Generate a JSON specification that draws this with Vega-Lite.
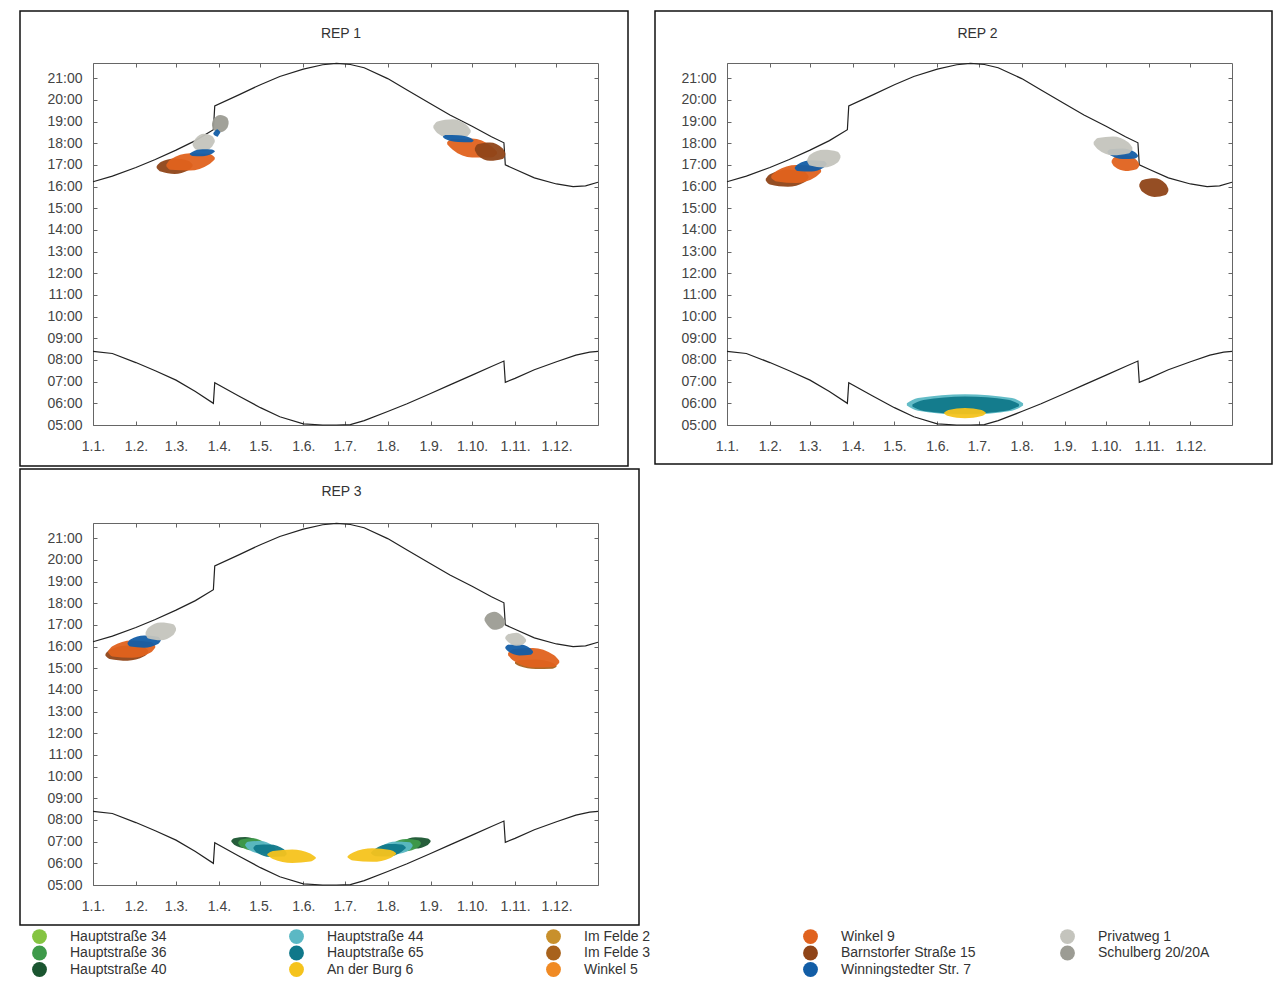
{
  "$schema": "https://vega.github.io/schema/vega-lite/v6.json",
  "background": "white",
  "padding": {"left": 19, "top": 10, "right": 0, "bottom": 0},
  "config": {
    "view": {"stroke": "#111", "strokeWidth": 1.5},
    "font": "Liberation Sans",
    "axis": {"labelFont": "Liberation Sans", "labelFontSize": 14, "labelColor": "#444", "domainColor": "#666", "tickColor": "#666", "domainWidth": 1, "tickWidth": 1, "grid": false},
    "title": {"font": "Liberation Sans", "fontSize": 14, "fontWeight": "normal", "color": "#333"}
  },
  "datasets": {
    "sun": [
      {"curve": "Sonnenuntergang", "date": "2020-01-01", "time": 16.22},
      {"curve": "Sonnenuntergang", "date": "2020-01-15", "time": 16.48},
      {"curve": "Sonnenuntergang", "date": "2020-02-01", "time": 16.88},
      {"curve": "Sonnenuntergang", "date": "2020-02-15", "time": 17.25},
      {"curve": "Sonnenuntergang", "date": "2020-03-01", "time": 17.68},
      {"curve": "Sonnenuntergang", "date": "2020-03-15", "time": 18.12},
      {"curve": "Sonnenuntergang", "date": "2020-03-28", "time": 18.62},
      {"curve": "Sonnenuntergang", "date": "2020-03-29", "time": 19.72},
      {"curve": "Sonnenuntergang", "date": "2020-04-15", "time": 20.22},
      {"curve": "Sonnenuntergang", "date": "2020-05-01", "time": 20.7},
      {"curve": "Sonnenuntergang", "date": "2020-05-15", "time": 21.08},
      {"curve": "Sonnenuntergang", "date": "2020-06-01", "time": 21.42},
      {"curve": "Sonnenuntergang", "date": "2020-06-15", "time": 21.62},
      {"curve": "Sonnenuntergang", "date": "2020-06-25", "time": 21.68},
      {"curve": "Sonnenuntergang", "date": "2020-07-05", "time": 21.63},
      {"curve": "Sonnenuntergang", "date": "2020-07-15", "time": 21.48},
      {"curve": "Sonnenuntergang", "date": "2020-08-01", "time": 20.98},
      {"curve": "Sonnenuntergang", "date": "2020-08-15", "time": 20.45},
      {"curve": "Sonnenuntergang", "date": "2020-09-01", "time": 19.82},
      {"curve": "Sonnenuntergang", "date": "2020-09-15", "time": 19.3},
      {"curve": "Sonnenuntergang", "date": "2020-10-01", "time": 18.78},
      {"curve": "Sonnenuntergang", "date": "2020-10-15", "time": 18.3},
      {"curve": "Sonnenuntergang", "date": "2020-10-24", "time": 18.02},
      {"curve": "Sonnenuntergang", "date": "2020-10-25", "time": 17.0},
      {"curve": "Sonnenuntergang", "date": "2020-11-01", "time": 16.8},
      {"curve": "Sonnenuntergang", "date": "2020-11-15", "time": 16.4},
      {"curve": "Sonnenuntergang", "date": "2020-12-01", "time": 16.12},
      {"curve": "Sonnenuntergang", "date": "2020-12-13", "time": 16.0},
      {"curve": "Sonnenuntergang", "date": "2020-12-22", "time": 16.03},
      {"curve": "Sonnenuntergang", "date": "2020-12-31", "time": 16.2},
      {"curve": "Sonnenaufgang", "date": "2020-01-01", "time": 8.4},
      {"curve": "Sonnenaufgang", "date": "2020-01-15", "time": 8.3},
      {"curve": "Sonnenaufgang", "date": "2020-02-01", "time": 7.88},
      {"curve": "Sonnenaufgang", "date": "2020-02-15", "time": 7.5},
      {"curve": "Sonnenaufgang", "date": "2020-03-01", "time": 7.07},
      {"curve": "Sonnenaufgang", "date": "2020-03-15", "time": 6.55},
      {"curve": "Sonnenaufgang", "date": "2020-03-28", "time": 6.0},
      {"curve": "Sonnenaufgang", "date": "2020-03-29", "time": 6.95},
      {"curve": "Sonnenaufgang", "date": "2020-04-15", "time": 6.35},
      {"curve": "Sonnenaufgang", "date": "2020-05-01", "time": 5.8},
      {"curve": "Sonnenaufgang", "date": "2020-05-15", "time": 5.38},
      {"curve": "Sonnenaufgang", "date": "2020-06-01", "time": 5.05},
      {"curve": "Sonnenaufgang", "date": "2020-06-15", "time": 4.88},
      {"curve": "Sonnenaufgang", "date": "2020-06-25", "time": 4.9},
      {"curve": "Sonnenaufgang", "date": "2020-07-05", "time": 5.02},
      {"curve": "Sonnenaufgang", "date": "2020-07-15", "time": 5.2},
      {"curve": "Sonnenaufgang", "date": "2020-08-01", "time": 5.62},
      {"curve": "Sonnenaufgang", "date": "2020-08-15", "time": 5.98},
      {"curve": "Sonnenaufgang", "date": "2020-09-01", "time": 6.45},
      {"curve": "Sonnenaufgang", "date": "2020-09-15", "time": 6.85},
      {"curve": "Sonnenaufgang", "date": "2020-10-01", "time": 7.3},
      {"curve": "Sonnenaufgang", "date": "2020-10-15", "time": 7.7},
      {"curve": "Sonnenaufgang", "date": "2020-10-24", "time": 7.95},
      {"curve": "Sonnenaufgang", "date": "2020-10-25", "time": 6.97},
      {"curve": "Sonnenaufgang", "date": "2020-11-01", "time": 7.15},
      {"curve": "Sonnenaufgang", "date": "2020-11-15", "time": 7.55},
      {"curve": "Sonnenaufgang", "date": "2020-12-01", "time": 7.92},
      {"curve": "Sonnenaufgang", "date": "2020-12-15", "time": 8.22},
      {"curve": "Sonnenaufgang", "date": "2020-12-25", "time": 8.36},
      {"curve": "Sonnenaufgang", "date": "2020-12-31", "time": 8.4}
    ],
    "flicker": [
      {"rep": "REP 1", "name": "Barnstorfer Straße 15", "seg": "A", "date": "2020-02-16", "from": 16.86, "to": 16.94},
      {"rep": "REP 1", "name": "Barnstorfer Straße 15", "seg": "A", "date": "2020-02-19", "from": 16.69, "to": 17.13},
      {"rep": "REP 1", "name": "Barnstorfer Straße 15", "seg": "A", "date": "2020-02-29", "from": 16.58, "to": 17.3},
      {"rep": "REP 1", "name": "Barnstorfer Straße 15", "seg": "A", "date": "2020-03-10", "from": 16.75, "to": 17.19},
      {"rep": "REP 1", "name": "Barnstorfer Straße 15", "seg": "A", "date": "2020-03-13", "from": 16.94, "to": 17.02},
      {"rep": "REP 1", "name": "Winkel 9", "seg": "A", "date": "2020-02-23", "from": 16.94, "to": 17.02},
      {"rep": "REP 1", "name": "Winkel 9", "seg": "A", "date": "2020-02-26", "from": 16.77, "to": 17.25},
      {"rep": "REP 1", "name": "Winkel 9", "seg": "A", "date": "2020-03-11", "from": 16.74, "to": 17.54},
      {"rep": "REP 1", "name": "Winkel 9", "seg": "A", "date": "2020-03-25", "from": 17.03, "to": 17.51},
      {"rep": "REP 1", "name": "Winkel 9", "seg": "A", "date": "2020-03-29", "from": 17.26, "to": 17.34},
      {"rep": "REP 1", "name": "Privatweg 1", "seg": "A", "date": "2020-03-13", "from": 17.9, "to": 18.0},
      {"rep": "REP 1", "name": "Privatweg 1", "seg": "A", "date": "2020-03-15", "from": 17.72, "to": 18.21},
      {"rep": "REP 1", "name": "Privatweg 1", "seg": "A", "date": "2020-03-21", "from": 17.62, "to": 18.44},
      {"rep": "REP 1", "name": "Privatweg 1", "seg": "A", "date": "2020-03-27", "from": 17.84, "to": 18.33},
      {"rep": "REP 1", "name": "Privatweg 1", "seg": "A", "date": "2020-03-29", "from": 18.05, "to": 18.15},
      {"rep": "REP 1", "name": "Winningstedter Str. 7", "seg": "A", "date": "2020-03-11", "from": 17.48, "to": 17.52},
      {"rep": "REP 1", "name": "Winningstedter Str. 7", "seg": "A", "date": "2020-03-13", "from": 17.41, "to": 17.61},
      {"rep": "REP 1", "name": "Winningstedter Str. 7", "seg": "A", "date": "2020-03-20", "from": 17.4, "to": 17.72},
      {"rep": "REP 1", "name": "Winningstedter Str. 7", "seg": "A", "date": "2020-03-27", "from": 17.51, "to": 17.71},
      {"rep": "REP 1", "name": "Winningstedter Str. 7", "seg": "A", "date": "2020-03-29", "from": 17.6, "to": 17.64},
      {"rep": "REP 1", "name": "Schulberg 20/20A", "seg": "B", "date": "2020-03-27", "from": 18.8, "to": 18.9},
      {"rep": "REP 1", "name": "Schulberg 20/20A", "seg": "B", "date": "2020-03-28", "from": 18.62, "to": 19.1},
      {"rep": "REP 1", "name": "Schulberg 20/20A", "seg": "B", "date": "2020-04-02", "from": 18.5, "to": 19.3},
      {"rep": "REP 1", "name": "Schulberg 20/20A", "seg": "B", "date": "2020-04-07", "from": 18.7, "to": 19.18},
      {"rep": "REP 1", "name": "Schulberg 20/20A", "seg": "B", "date": "2020-04-08", "from": 18.9, "to": 19.0},
      {"rep": "REP 1", "name": "Winningstedter Str. 7", "seg": "B", "date": "2020-03-28", "from": 18.43, "to": 18.47},
      {"rep": "REP 1", "name": "Winningstedter Str. 7", "seg": "B", "date": "2020-03-29", "from": 18.35, "to": 18.55},
      {"rep": "REP 1", "name": "Winningstedter Str. 7", "seg": "B", "date": "2020-03-31", "from": 18.3, "to": 18.64},
      {"rep": "REP 1", "name": "Winningstedter Str. 7", "seg": "B", "date": "2020-04-01", "from": 18.39, "to": 18.59},
      {"rep": "REP 1", "name": "Winningstedter Str. 7", "seg": "B", "date": "2020-04-02", "from": 18.48, "to": 18.52},
      {"rep": "REP 1", "name": "Winkel 9", "seg": "C", "date": "2020-09-13", "from": 17.95, "to": 18.05},
      {"rep": "REP 1", "name": "Winkel 9", "seg": "C", "date": "2020-09-17", "from": 17.7, "to": 18.22},
      {"rep": "REP 1", "name": "Winkel 9", "seg": "C", "date": "2020-10-01", "from": 17.34, "to": 18.22},
      {"rep": "REP 1", "name": "Winkel 9", "seg": "C", "date": "2020-10-15", "from": 17.34, "to": 17.86},
      {"rep": "REP 1", "name": "Winkel 9", "seg": "C", "date": "2020-10-19", "from": 17.5, "to": 17.6},
      {"rep": "REP 1", "name": "Barnstorfer Straße 15", "seg": "C", "date": "2020-10-03", "from": 17.67, "to": 17.77},
      {"rep": "REP 1", "name": "Barnstorfer Straße 15", "seg": "C", "date": "2020-10-05", "from": 17.45, "to": 17.95},
      {"rep": "REP 1", "name": "Barnstorfer Straße 15", "seg": "C", "date": "2020-10-14", "from": 17.19, "to": 18.03},
      {"rep": "REP 1", "name": "Barnstorfer Straße 15", "seg": "C", "date": "2020-10-23", "from": 17.27, "to": 17.77},
      {"rep": "REP 1", "name": "Barnstorfer Straße 15", "seg": "C", "date": "2020-10-25", "from": 17.45, "to": 17.55},
      {"rep": "REP 1", "name": "Privatweg 1", "seg": "C", "date": "2020-09-03", "from": 18.7, "to": 18.8},
      {"rep": "REP 1", "name": "Privatweg 1", "seg": "C", "date": "2020-09-06", "from": 18.46, "to": 19.0},
      {"rep": "REP 1", "name": "Privatweg 1", "seg": "C", "date": "2020-09-17", "from": 18.2, "to": 19.1},
      {"rep": "REP 1", "name": "Privatweg 1", "seg": "C", "date": "2020-09-27", "from": 18.3, "to": 18.84},
      {"rep": "REP 1", "name": "Privatweg 1", "seg": "C", "date": "2020-09-30", "from": 18.5, "to": 18.6},
      {"rep": "REP 1", "name": "Winningstedter Str. 7", "seg": "C", "date": "2020-09-10", "from": 18.28, "to": 18.32},
      {"rep": "REP 1", "name": "Winningstedter Str. 7", "seg": "C", "date": "2020-09-12", "from": 18.18, "to": 18.38},
      {"rep": "REP 1", "name": "Winningstedter Str. 7", "seg": "C", "date": "2020-09-21", "from": 18.05, "to": 18.37},
      {"rep": "REP 1", "name": "Winningstedter Str. 7", "seg": "C", "date": "2020-09-30", "from": 18.04, "to": 18.24},
      {"rep": "REP 1", "name": "Winningstedter Str. 7", "seg": "C", "date": "2020-10-02", "from": 18.1, "to": 18.14},

      {"rep": "REP 2", "name": "Barnstorfer Straße 15", "seg": "A", "date": "2020-01-29", "from": 16.28, "to": 16.36},
      {"rep": "REP 2", "name": "Barnstorfer Straße 15", "seg": "A", "date": "2020-02-01", "from": 16.09, "to": 16.57},
      {"rep": "REP 2", "name": "Barnstorfer Straße 15", "seg": "A", "date": "2020-02-14", "from": 15.99, "to": 16.79},
      {"rep": "REP 2", "name": "Barnstorfer Straße 15", "seg": "A", "date": "2020-02-26", "from": 16.2, "to": 16.68},
      {"rep": "REP 2", "name": "Barnstorfer Straße 15", "seg": "A", "date": "2020-02-29", "from": 16.41, "to": 16.49},
      {"rep": "REP 2", "name": "Winkel 9", "seg": "A", "date": "2020-02-02", "from": 16.4, "to": 16.5},
      {"rep": "REP 2", "name": "Winkel 9", "seg": "A", "date": "2020-02-06", "from": 16.23, "to": 16.73},
      {"rep": "REP 2", "name": "Winkel 9", "seg": "A", "date": "2020-02-20", "from": 16.16, "to": 17.0},
      {"rep": "REP 2", "name": "Winkel 9", "seg": "A", "date": "2020-03-05", "from": 16.44, "to": 16.94},
      {"rep": "REP 2", "name": "Winkel 9", "seg": "A", "date": "2020-03-09", "from": 16.67, "to": 16.77},
      {"rep": "REP 2", "name": "Winningstedter Str. 7", "seg": "A", "date": "2020-02-19", "from": 16.82, "to": 16.88},
      {"rep": "REP 2", "name": "Winningstedter Str. 7", "seg": "A", "date": "2020-02-21", "from": 16.72, "to": 17.02},
      {"rep": "REP 2", "name": "Winningstedter Str. 7", "seg": "A", "date": "2020-03-02", "from": 16.69, "to": 17.21},
      {"rep": "REP 2", "name": "Winningstedter Str. 7", "seg": "A", "date": "2020-03-11", "from": 16.88, "to": 17.18},
      {"rep": "REP 2", "name": "Winningstedter Str. 7", "seg": "A", "date": "2020-03-13", "from": 17.02, "to": 17.08},
      {"rep": "REP 2", "name": "Privatweg 1", "seg": "A", "date": "2020-02-28", "from": 17.15, "to": 17.25},
      {"rep": "REP 2", "name": "Privatweg 1", "seg": "A", "date": "2020-03-01", "from": 16.97, "to": 17.47},
      {"rep": "REP 2", "name": "Privatweg 1", "seg": "A", "date": "2020-03-11", "from": 16.88, "to": 17.7},
      {"rep": "REP 2", "name": "Privatweg 1", "seg": "A", "date": "2020-03-21", "from": 17.11, "to": 17.61},
      {"rep": "REP 2", "name": "Privatweg 1", "seg": "A", "date": "2020-03-23", "from": 17.33, "to": 17.43},
      {"rep": "REP 2", "name": "Hauptstraße 44", "seg": "B", "date": "2020-05-10", "from": 5.9, "to": 6.0},
      {"rep": "REP 2", "name": "Hauptstraße 44", "seg": "B", "date": "2020-05-18", "from": 5.66, "to": 6.24},
      {"rep": "REP 2", "name": "Hauptstraße 44", "seg": "B", "date": "2020-06-21", "from": 5.48, "to": 6.42},
      {"rep": "REP 2", "name": "Hauptstraße 44", "seg": "B", "date": "2020-07-25", "from": 5.66, "to": 6.24},
      {"rep": "REP 2", "name": "Hauptstraße 44", "seg": "B", "date": "2020-08-02", "from": 5.9, "to": 6.0},
      {"rep": "REP 2", "name": "Hauptstraße 65", "seg": "B", "date": "2020-05-14", "from": 5.85, "to": 5.95},
      {"rep": "REP 2", "name": "Hauptstraße 65", "seg": "B", "date": "2020-05-22", "from": 5.65, "to": 6.15},
      {"rep": "REP 2", "name": "Hauptstraße 65", "seg": "B", "date": "2020-06-21", "from": 5.51, "to": 6.32},
      {"rep": "REP 2", "name": "Hauptstraße 65", "seg": "B", "date": "2020-07-22", "from": 5.67, "to": 6.17},
      {"rep": "REP 2", "name": "Hauptstraße 65", "seg": "B", "date": "2020-07-30", "from": 5.87, "to": 5.97},
      {"rep": "REP 2", "name": "An der Burg 6", "seg": "B", "date": "2020-06-06", "from": 5.52, "to": 5.58},
      {"rep": "REP 2", "name": "An der Burg 6", "seg": "B", "date": "2020-06-09", "from": 5.41, "to": 5.69},
      {"rep": "REP 2", "name": "An der Burg 6", "seg": "B", "date": "2020-06-21", "from": 5.31, "to": 5.79},
      {"rep": "REP 2", "name": "An der Burg 6", "seg": "B", "date": "2020-07-03", "from": 5.41, "to": 5.69},
      {"rep": "REP 2", "name": "An der Burg 6", "seg": "B", "date": "2020-07-06", "from": 5.52, "to": 5.58},
      {"rep": "REP 2", "name": "Winkel 9", "seg": "C", "date": "2020-10-05", "from": 17.11, "to": 17.19},
      {"rep": "REP 2", "name": "Winkel 9", "seg": "C", "date": "2020-10-07", "from": 16.92, "to": 17.35},
      {"rep": "REP 2", "name": "Winkel 9", "seg": "C", "date": "2020-10-15", "from": 16.72, "to": 17.44},
      {"rep": "REP 2", "name": "Winkel 9", "seg": "C", "date": "2020-10-23", "from": 16.8, "to": 17.23},
      {"rep": "REP 2", "name": "Winkel 9", "seg": "C", "date": "2020-10-25", "from": 16.96, "to": 17.04},
      {"rep": "REP 2", "name": "Winningstedter Str. 7", "seg": "C", "date": "2020-10-02", "from": 17.57, "to": 17.63},
      {"rep": "REP 2", "name": "Winningstedter Str. 7", "seg": "C", "date": "2020-10-04", "from": 17.44, "to": 17.72},
      {"rep": "REP 2", "name": "Winningstedter Str. 7", "seg": "C", "date": "2020-10-13", "from": 17.27, "to": 17.75},
      {"rep": "REP 2", "name": "Winningstedter Str. 7", "seg": "C", "date": "2020-10-22", "from": 17.3, "to": 17.58},
      {"rep": "REP 2", "name": "Winningstedter Str. 7", "seg": "C", "date": "2020-10-24", "from": 17.39, "to": 17.45},
      {"rep": "REP 2", "name": "Privatweg 1", "seg": "C", "date": "2020-09-22", "from": 17.95, "to": 18.05},
      {"rep": "REP 2", "name": "Privatweg 1", "seg": "C", "date": "2020-09-25", "from": 17.72, "to": 18.24},
      {"rep": "REP 2", "name": "Privatweg 1", "seg": "C", "date": "2020-10-06", "from": 17.44, "to": 18.31},
      {"rep": "REP 2", "name": "Privatweg 1", "seg": "C", "date": "2020-10-17", "from": 17.52, "to": 18.04},
      {"rep": "REP 2", "name": "Privatweg 1", "seg": "C", "date": "2020-10-20", "from": 17.7, "to": 17.8},
      {"rep": "REP 2", "name": "Barnstorfer Straße 15", "seg": "D", "date": "2020-10-25", "from": 16.0, "to": 16.1},
      {"rep": "REP 2", "name": "Barnstorfer Straße 15", "seg": "D", "date": "2020-10-27", "from": 15.77, "to": 16.29},
      {"rep": "REP 2", "name": "Barnstorfer Straße 15", "seg": "D", "date": "2020-11-05", "from": 15.52, "to": 16.38},
      {"rep": "REP 2", "name": "Barnstorfer Straße 15", "seg": "D", "date": "2020-11-13", "from": 15.61, "to": 16.13},
      {"rep": "REP 2", "name": "Barnstorfer Straße 15", "seg": "D", "date": "2020-11-15", "from": 15.8, "to": 15.9},

      {"rep": "REP 3", "name": "Barnstorfer Straße 15", "seg": "A", "date": "2020-01-10", "from": 15.58, "to": 15.66},
      {"rep": "REP 3", "name": "Barnstorfer Straße 15", "seg": "A", "date": "2020-01-13", "from": 15.43, "to": 15.85},
      {"rep": "REP 3", "name": "Barnstorfer Straße 15", "seg": "A", "date": "2020-01-26", "from": 15.35, "to": 16.05},
      {"rep": "REP 3", "name": "Barnstorfer Straße 15", "seg": "A", "date": "2020-02-07", "from": 15.55, "to": 15.97},
      {"rep": "REP 3", "name": "Barnstorfer Straße 15", "seg": "A", "date": "2020-02-10", "from": 15.74, "to": 15.82},
      {"rep": "REP 3", "name": "Winkel 9", "seg": "A", "date": "2020-01-12", "from": 15.71, "to": 15.79},
      {"rep": "REP 3", "name": "Winkel 9", "seg": "A", "date": "2020-01-15", "from": 15.54, "to": 16.01},
      {"rep": "REP 3", "name": "Winkel 9", "seg": "A", "date": "2020-01-29", "from": 15.48, "to": 16.28},
      {"rep": "REP 3", "name": "Winkel 9", "seg": "A", "date": "2020-02-12", "from": 15.74, "to": 16.21},
      {"rep": "REP 3", "name": "Winkel 9", "seg": "A", "date": "2020-02-15", "from": 15.96, "to": 16.04},
      {"rep": "REP 3", "name": "Winningstedter Str. 7", "seg": "A", "date": "2020-01-26", "from": 16.12, "to": 16.18},
      {"rep": "REP 3", "name": "Winningstedter Str. 7", "seg": "A", "date": "2020-01-28", "from": 16.0, "to": 16.33},
      {"rep": "REP 3", "name": "Winningstedter Str. 7", "seg": "A", "date": "2020-02-07", "from": 15.95, "to": 16.51},
      {"rep": "REP 3", "name": "Winningstedter Str. 7", "seg": "A", "date": "2020-02-17", "from": 16.12, "to": 16.45},
      {"rep": "REP 3", "name": "Winningstedter Str. 7", "seg": "A", "date": "2020-02-19", "from": 16.27, "to": 16.33},
      {"rep": "REP 3", "name": "Privatweg 1", "seg": "A", "date": "2020-02-08", "from": 16.55, "to": 16.65},
      {"rep": "REP 3", "name": "Privatweg 1", "seg": "A", "date": "2020-02-10", "from": 16.37, "to": 16.87},
      {"rep": "REP 3", "name": "Privatweg 1", "seg": "A", "date": "2020-02-19", "from": 16.29, "to": 17.11},
      {"rep": "REP 3", "name": "Privatweg 1", "seg": "A", "date": "2020-02-28", "from": 16.53, "to": 17.03},
      {"rep": "REP 3", "name": "Privatweg 1", "seg": "A", "date": "2020-03-01", "from": 16.75, "to": 16.85},
      {"rep": "REP 3", "name": "Hauptstraße 40", "seg": "B", "date": "2020-04-10", "from": 6.99, "to": 7.05},
      {"rep": "REP 3", "name": "Hauptstraße 40", "seg": "B", "date": "2020-04-12", "from": 6.86, "to": 7.16},
      {"rep": "REP 3", "name": "Hauptstraße 40", "seg": "B", "date": "2020-04-20", "from": 6.7, "to": 7.22},
      {"rep": "REP 3", "name": "Hauptstraße 40", "seg": "B", "date": "2020-04-29", "from": 6.76, "to": 7.06},
      {"rep": "REP 3", "name": "Hauptstraße 40", "seg": "B", "date": "2020-05-01", "from": 6.87, "to": 6.93},
      {"rep": "REP 3", "name": "Hauptstraße 36", "seg": "B", "date": "2020-04-15", "from": 6.92, "to": 6.98},
      {"rep": "REP 3", "name": "Hauptstraße 36", "seg": "B", "date": "2020-04-17", "from": 6.77, "to": 7.1},
      {"rep": "REP 3", "name": "Hauptstraße 36", "seg": "B", "date": "2020-04-25", "from": 6.6, "to": 7.16},
      {"rep": "REP 3", "name": "Hauptstraße 36", "seg": "B", "date": "2020-05-03", "from": 6.65, "to": 6.98},
      {"rep": "REP 3", "name": "Hauptstraße 36", "seg": "B", "date": "2020-05-05", "from": 6.77, "to": 6.83},
      {"rep": "REP 3", "name": "Hauptstraße 44", "seg": "B", "date": "2020-04-20", "from": 6.82, "to": 6.88},
      {"rep": "REP 3", "name": "Hauptstraße 44", "seg": "B", "date": "2020-04-22", "from": 6.66, "to": 7.0},
      {"rep": "REP 3", "name": "Hauptstraße 44", "seg": "B", "date": "2020-05-01", "from": 6.45, "to": 7.03},
      {"rep": "REP 3", "name": "Hauptstraße 44", "seg": "B", "date": "2020-05-10", "from": 6.47, "to": 6.81},
      {"rep": "REP 3", "name": "Hauptstraße 44", "seg": "B", "date": "2020-05-12", "from": 6.59, "to": 6.65},
      {"rep": "REP 3", "name": "Hauptstraße 65", "seg": "B", "date": "2020-04-26", "from": 6.67, "to": 6.73},
      {"rep": "REP 3", "name": "Hauptstraße 65", "seg": "B", "date": "2020-04-28", "from": 6.51, "to": 6.85},
      {"rep": "REP 3", "name": "Hauptstraße 65", "seg": "B", "date": "2020-05-08", "from": 6.29, "to": 6.87},
      {"rep": "REP 3", "name": "Hauptstraße 65", "seg": "B", "date": "2020-05-18", "from": 6.31, "to": 6.65},
      {"rep": "REP 3", "name": "Hauptstraße 65", "seg": "B", "date": "2020-05-20", "from": 6.42, "to": 6.48},
      {"rep": "REP 3", "name": "An der Burg 6", "seg": "B", "date": "2020-05-06", "from": 6.37, "to": 6.43},
      {"rep": "REP 3", "name": "An der Burg 6", "seg": "B", "date": "2020-05-10", "from": 6.2, "to": 6.57},
      {"rep": "REP 3", "name": "An der Burg 6", "seg": "B", "date": "2020-05-24", "from": 6.02, "to": 6.64},
      {"rep": "REP 3", "name": "An der Burg 6", "seg": "B", "date": "2020-06-06", "from": 6.08, "to": 6.45},
      {"rep": "REP 3", "name": "An der Burg 6", "seg": "B", "date": "2020-06-10", "from": 6.22, "to": 6.28},
      {"rep": "REP 3", "name": "Hauptstraße 40", "seg": "C", "date": "2020-08-10", "from": 6.82, "to": 6.88},
      {"rep": "REP 3", "name": "Hauptstraße 40", "seg": "C", "date": "2020-08-12", "from": 6.72, "to": 7.02},
      {"rep": "REP 3", "name": "Hauptstraße 40", "seg": "C", "date": "2020-08-21", "from": 6.68, "to": 7.2},
      {"rep": "REP 3", "name": "Hauptstraße 40", "seg": "C", "date": "2020-08-30", "from": 6.85, "to": 7.15},
      {"rep": "REP 3", "name": "Hauptstraße 40", "seg": "C", "date": "2020-09-01", "from": 6.99, "to": 7.05},
      {"rep": "REP 3", "name": "Hauptstraße 36", "seg": "C", "date": "2020-08-03", "from": 6.72, "to": 6.78},
      {"rep": "REP 3", "name": "Hauptstraße 36", "seg": "C", "date": "2020-08-05", "from": 6.61, "to": 6.93},
      {"rep": "REP 3", "name": "Hauptstraße 36", "seg": "C", "date": "2020-08-14", "from": 6.56, "to": 7.12},
      {"rep": "REP 3", "name": "Hauptstraße 36", "seg": "C", "date": "2020-08-23", "from": 6.74, "to": 7.06},
      {"rep": "REP 3", "name": "Hauptstraße 36", "seg": "C", "date": "2020-08-25", "from": 6.89, "to": 6.95},
      {"rep": "REP 3", "name": "Hauptstraße 44", "seg": "C", "date": "2020-07-26", "from": 6.59, "to": 6.65},
      {"rep": "REP 3", "name": "Hauptstraße 44", "seg": "C", "date": "2020-07-28", "from": 6.47, "to": 6.81},
      {"rep": "REP 3", "name": "Hauptstraße 44", "seg": "C", "date": "2020-08-07", "from": 6.43, "to": 7.01},
      {"rep": "REP 3", "name": "Hauptstraße 44", "seg": "C", "date": "2020-08-17", "from": 6.63, "to": 6.97},
      {"rep": "REP 3", "name": "Hauptstraße 44", "seg": "C", "date": "2020-08-19", "from": 6.79, "to": 6.85},
      {"rep": "REP 3", "name": "Hauptstraße 65", "seg": "C", "date": "2020-07-20", "from": 6.45, "to": 6.51},
      {"rep": "REP 3", "name": "Hauptstraße 65", "seg": "C", "date": "2020-07-23", "from": 6.33, "to": 6.67},
      {"rep": "REP 3", "name": "Hauptstraße 65", "seg": "C", "date": "2020-08-02", "from": 6.31, "to": 6.89},
      {"rep": "REP 3", "name": "Hauptstraße 65", "seg": "C", "date": "2020-08-11", "from": 6.53, "to": 6.87},
      {"rep": "REP 3", "name": "Hauptstraße 65", "seg": "C", "date": "2020-08-14", "from": 6.69, "to": 6.75},
      {"rep": "REP 3", "name": "An der Burg 6", "seg": "C", "date": "2020-07-03", "from": 6.27, "to": 6.33},
      {"rep": "REP 3", "name": "An der Burg 6", "seg": "C", "date": "2020-07-07", "from": 6.13, "to": 6.5},
      {"rep": "REP 3", "name": "An der Burg 6", "seg": "C", "date": "2020-07-21", "from": 6.07, "to": 6.69},
      {"rep": "REP 3", "name": "An der Burg 6", "seg": "C", "date": "2020-08-03", "from": 6.25, "to": 6.62},
      {"rep": "REP 3", "name": "An der Burg 6", "seg": "C", "date": "2020-08-07", "from": 6.42, "to": 6.48},
      {"rep": "REP 3", "name": "Schulberg 20/20A", "seg": "C", "date": "2020-10-10", "from": 17.2, "to": 17.3},
      {"rep": "REP 3", "name": "Schulberg 20/20A", "seg": "C", "date": "2020-10-12", "from": 16.99, "to": 17.49},
      {"rep": "REP 3", "name": "Schulberg 20/20A", "seg": "C", "date": "2020-10-17", "from": 16.77, "to": 17.61},
      {"rep": "REP 3", "name": "Schulberg 20/20A", "seg": "C", "date": "2020-10-23", "from": 16.88, "to": 17.38},
      {"rep": "REP 3", "name": "Schulberg 20/20A", "seg": "C", "date": "2020-10-25", "from": 17.07, "to": 17.17},
      {"rep": "REP 3", "name": "Im Felde 3", "seg": "D", "date": "2020-11-01", "from": 15.22, "to": 15.28},
      {"rep": "REP 3", "name": "Im Felde 3", "seg": "D", "date": "2020-11-04", "from": 15.1, "to": 15.37},
      {"rep": "REP 3", "name": "Im Felde 3", "seg": "D", "date": "2020-11-16", "from": 14.96, "to": 15.4},
      {"rep": "REP 3", "name": "Im Felde 3", "seg": "D", "date": "2020-11-28", "from": 14.98, "to": 15.25},
      {"rep": "REP 3", "name": "Im Felde 3", "seg": "D", "date": "2020-12-01", "from": 15.07, "to": 15.13},
      {"rep": "REP 3", "name": "Winkel 9", "seg": "D", "date": "2020-10-27", "from": 15.6, "to": 15.7},
      {"rep": "REP 3", "name": "Winkel 9", "seg": "D", "date": "2020-10-31", "from": 15.34, "to": 15.89},
      {"rep": "REP 3", "name": "Winkel 9", "seg": "D", "date": "2020-11-14", "from": 15.03, "to": 15.93},
      {"rep": "REP 3", "name": "Winkel 9", "seg": "D", "date": "2020-11-29", "from": 15.06, "to": 15.61},
      {"rep": "REP 3", "name": "Winkel 9", "seg": "D", "date": "2020-12-03", "from": 15.25, "to": 15.35},
      {"rep": "REP 3", "name": "Winningstedter Str. 7", "seg": "D", "date": "2020-10-25", "from": 15.92, "to": 15.98},
      {"rep": "REP 3", "name": "Winningstedter Str. 7", "seg": "D", "date": "2020-10-27", "from": 15.78, "to": 16.08},
      {"rep": "REP 3", "name": "Winningstedter Str. 7", "seg": "D", "date": "2020-11-04", "from": 15.59, "to": 16.11},
      {"rep": "REP 3", "name": "Winningstedter Str. 7", "seg": "D", "date": "2020-11-12", "from": 15.62, "to": 15.92},
      {"rep": "REP 3", "name": "Winningstedter Str. 7", "seg": "D", "date": "2020-11-14", "from": 15.72, "to": 15.78},
      {"rep": "REP 3", "name": "Privatweg 1", "seg": "D", "date": "2020-10-25", "from": 16.36, "to": 16.44},
      {"rep": "REP 3", "name": "Privatweg 1", "seg": "D", "date": "2020-10-27", "from": 16.21, "to": 16.57},
      {"rep": "REP 3", "name": "Privatweg 1", "seg": "D", "date": "2020-11-02", "from": 16.04, "to": 16.64},
      {"rep": "REP 3", "name": "Privatweg 1", "seg": "D", "date": "2020-11-07", "from": 16.11, "to": 16.47},
      {"rep": "REP 3", "name": "Privatweg 1", "seg": "D", "date": "2020-11-09", "from": 16.24, "to": 16.32}
    ]
  },
  "vconcat": [
    {
      "hconcat": [
        {
          "width": 608, "height": 455,
          "title": {"text": "REP 1", "offset": -30, "dx": 17},
          "layer": [
            {
              "data": {"name": "sun"},
              "mark": {"type": "line", "color": "#222", "strokeWidth": 1.2},
              "encoding": {
                "x": {"field": "date", "type": "temporal",
                  "scale": {"type": "utc", "domain": [{"year": 2020, "month": 1, "date": 1, "utc": true}, {"year": 2020, "month": 12, "date": 31, "utc": true}], "range": [73, 578]},
                  "axis": {"orient": "bottom", "offset": -41, "title": null, "labelExpr": "utcFormat(datum.value, '%-d.%-m.')", "labelFlush": false, "labelOverlap": false, "tickSize": -4, "labelPadding": 18,
                    "values": [{"year": 2020, "month": 1, "date": 1, "utc": true}, {"year": 2020, "month": 2, "date": 1, "utc": true}, {"year": 2020, "month": 3, "date": 1, "utc": true}, {"year": 2020, "month": 4, "date": 1, "utc": true}, {"year": 2020, "month": 5, "date": 1, "utc": true}, {"year": 2020, "month": 6, "date": 1, "utc": true}, {"year": 2020, "month": 7, "date": 1, "utc": true}, {"year": 2020, "month": 8, "date": 1, "utc": true}, {"year": 2020, "month": 9, "date": 1, "utc": true}, {"year": 2020, "month": 10, "date": 1, "utc": true}, {"year": 2020, "month": 11, "date": 1, "utc": true}, {"year": 2020, "month": 12, "date": 1, "utc": true}]}},
                "y": {"field": "time", "type": "quantitative",
                  "scale": {"domain": [5, 21.7], "range": [414, 52], "clamp": true, "nice": false, "zero": false},
                  "axis": {"orient": "left", "offset": -73, "title": null, "values": [5, 6, 7, 8, 9, 10, 11, 12, 13, 14, 15, 16, 17, 18, 19, 20, 21], "labelExpr": "(datum.value < 10 ? '0' : '') + datum.value + ':00'", "labelFlush": false, "labelOverlap": false, "tickSize": -4, "labelPadding": 15}},
                "detail": {"field": "curve"}
              }
            },
            {
              "data": {"name": "flicker"},
              "transform": [{"filter": "datum.rep === 'REP 1'"}],
              "mark": {"type": "area", "interpolate": "monotone", "opacity": 0.95},
              "encoding": {
                "x": {"field": "date", "type": "temporal",
                  "scale": {"type": "utc", "domain": [{"year": 2020, "month": 1, "date": 1, "utc": true}, {"year": 2020, "month": 12, "date": 31, "utc": true}], "range": [73, 578]},
                  "axis": {"orient": "top", "offset": -52, "title": null, "labels": false, "tickSize": -4,
                    "values": [{"year": 2020, "month": 1, "date": 1, "utc": true}, {"year": 2020, "month": 2, "date": 1, "utc": true}, {"year": 2020, "month": 3, "date": 1, "utc": true}, {"year": 2020, "month": 4, "date": 1, "utc": true}, {"year": 2020, "month": 5, "date": 1, "utc": true}, {"year": 2020, "month": 6, "date": 1, "utc": true}, {"year": 2020, "month": 7, "date": 1, "utc": true}, {"year": 2020, "month": 8, "date": 1, "utc": true}, {"year": 2020, "month": 9, "date": 1, "utc": true}, {"year": 2020, "month": 10, "date": 1, "utc": true}, {"year": 2020, "month": 11, "date": 1, "utc": true}, {"year": 2020, "month": 12, "date": 1, "utc": true}]}},
                "y": {"field": "from", "type": "quantitative",
                  "scale": {"domain": [5, 21.7], "range": [414, 52], "clamp": true, "nice": false, "zero": false},
                  "axis": {"orient": "right", "offset": -30, "title": null, "labels": false, "tickSize": -4, "values": [5, 6, 7, 8, 9, 10, 11, 12, 13, 14, 15, 16, 17, 18, 19, 20, 21]}},
                "y2": {"field": "to"},
                "color": {"field": "name", "type": "nominal",
                  "scale": {"domain": ["Hauptstraße 34", "Hauptstraße 36", "Hauptstraße 40", "Hauptstraße 44", "Hauptstraße 65", "An der Burg 6", "Im Felde 2", "Im Felde 3", "Winkel 5", "Winkel 9", "Barnstorfer Straße 15", "Winningstedter Str. 7", "Privatweg 1", "Schulberg 20/20A"],
                    "range": ["#84c441", "#3e9a4a", "#1a5530", "#5bb8c4", "#10788a", "#f5c31c", "#c8902c", "#a8621c", "#f08a24", "#e0621e", "#8f4418", "#125da6", "#c4c4bd", "#9c9c94"]},
                  "legend": {"orient": "none", "legendX": 12, "legendY": 918, "columns": 5, "gridAlign": "all", "columnPadding": 84, "rowPadding": 1.5, "symbolType": "circle", "symbolSize": 220, "symbolStrokeWidth": 0, "symbolOpacity": 1, "labelFont": "Liberation Sans", "labelFontSize": 14, "labelColor": "#333", "labelOffset": 23, "title": null, "padding": 0}},
                "detail": {"field": "seg"}
              }
            }
          ],
          "resolve": {"axis": {"x": "independent", "y": "independent"}}
        },
        {
          "width": 617, "height": 453,
          "title": {"text": "REP 2", "offset": -30, "dx": 14},
          "layer": [
            {
              "data": {"name": "sun"},
              "mark": {"type": "line", "color": "#222", "strokeWidth": 1.2},
              "encoding": {
                "x": {"field": "date", "type": "temporal",
                  "scale": {"type": "utc", "domain": [{"year": 2020, "month": 1, "date": 1, "utc": true}, {"year": 2020, "month": 12, "date": 31, "utc": true}], "range": [72, 577]},
                  "axis": {"orient": "bottom", "offset": -39, "title": null, "labelExpr": "utcFormat(datum.value, '%-d.%-m.')", "labelFlush": false, "labelOverlap": false, "tickSize": -4, "labelPadding": 18,
                    "values": [{"year": 2020, "month": 1, "date": 1, "utc": true}, {"year": 2020, "month": 2, "date": 1, "utc": true}, {"year": 2020, "month": 3, "date": 1, "utc": true}, {"year": 2020, "month": 4, "date": 1, "utc": true}, {"year": 2020, "month": 5, "date": 1, "utc": true}, {"year": 2020, "month": 6, "date": 1, "utc": true}, {"year": 2020, "month": 7, "date": 1, "utc": true}, {"year": 2020, "month": 8, "date": 1, "utc": true}, {"year": 2020, "month": 9, "date": 1, "utc": true}, {"year": 2020, "month": 10, "date": 1, "utc": true}, {"year": 2020, "month": 11, "date": 1, "utc": true}, {"year": 2020, "month": 12, "date": 1, "utc": true}]}},
                "y": {"field": "time", "type": "quantitative",
                  "scale": {"domain": [5, 21.7], "range": [414, 52], "clamp": true, "nice": false, "zero": false},
                  "axis": {"orient": "left", "offset": -72, "title": null, "values": [5, 6, 7, 8, 9, 10, 11, 12, 13, 14, 15, 16, 17, 18, 19, 20, 21], "labelExpr": "(datum.value < 10 ? '0' : '') + datum.value + ':00'", "labelFlush": false, "labelOverlap": false, "tickSize": -4, "labelPadding": 15}},
                "detail": {"field": "curve"}
              }
            },
            {
              "data": {"name": "flicker"},
              "transform": [{"filter": "datum.rep === 'REP 2'"}],
              "mark": {"type": "area", "interpolate": "monotone", "opacity": 0.95},
              "encoding": {
                "x": {"field": "date", "type": "temporal",
                  "scale": {"type": "utc", "domain": [{"year": 2020, "month": 1, "date": 1, "utc": true}, {"year": 2020, "month": 12, "date": 31, "utc": true}], "range": [72, 577]},
                  "axis": {"orient": "top", "offset": -52, "title": null, "labels": false, "tickSize": -4,
                    "values": [{"year": 2020, "month": 1, "date": 1, "utc": true}, {"year": 2020, "month": 2, "date": 1, "utc": true}, {"year": 2020, "month": 3, "date": 1, "utc": true}, {"year": 2020, "month": 4, "date": 1, "utc": true}, {"year": 2020, "month": 5, "date": 1, "utc": true}, {"year": 2020, "month": 6, "date": 1, "utc": true}, {"year": 2020, "month": 7, "date": 1, "utc": true}, {"year": 2020, "month": 8, "date": 1, "utc": true}, {"year": 2020, "month": 9, "date": 1, "utc": true}, {"year": 2020, "month": 10, "date": 1, "utc": true}, {"year": 2020, "month": 11, "date": 1, "utc": true}, {"year": 2020, "month": 12, "date": 1, "utc": true}]}},
                "y": {"field": "from", "type": "quantitative",
                  "scale": {"domain": [5, 21.7], "range": [414, 52], "clamp": true, "nice": false, "zero": false},
                  "axis": {"orient": "right", "offset": -40, "title": null, "labels": false, "tickSize": -4, "values": [5, 6, 7, 8, 9, 10, 11, 12, 13, 14, 15, 16, 17, 18, 19, 20, 21]}},
                "y2": {"field": "to"},
                "color": {"field": "name", "type": "nominal",
                  "scale": {"domain": ["Hauptstraße 34", "Hauptstraße 36", "Hauptstraße 40", "Hauptstraße 44", "Hauptstraße 65", "An der Burg 6", "Im Felde 2", "Im Felde 3", "Winkel 5", "Winkel 9", "Barnstorfer Straße 15", "Winningstedter Str. 7", "Privatweg 1", "Schulberg 20/20A"],
                    "range": ["#84c441", "#3e9a4a", "#1a5530", "#5bb8c4", "#10788a", "#f5c31c", "#c8902c", "#a8621c", "#f08a24", "#e0621e", "#8f4418", "#125da6", "#c4c4bd", "#9c9c94"]},
                  "legend": {"orient": "none", "legendX": 12, "legendY": 918, "columns": 5, "gridAlign": "all", "columnPadding": 84, "rowPadding": 1.5, "symbolType": "circle", "symbolSize": 220, "symbolStrokeWidth": 0, "symbolOpacity": 1, "labelFont": "Liberation Sans", "labelFontSize": 14, "labelColor": "#333", "labelOffset": 23, "title": null, "padding": 0}},
                "detail": {"field": "seg"}
              }
            }
          ],
          "resolve": {"axis": {"x": "independent", "y": "independent"}}
        }
      ],
      "spacing": 25
    },
    {
      "width": 619, "height": 456,
      "title": {"text": "REP 3", "offset": -30, "dx": 12},
      "layer": [
        {
          "data": {"name": "sun"},
          "mark": {"type": "line", "color": "#222", "strokeWidth": 1.2},
          "encoding": {
            "x": {"field": "date", "type": "temporal",
              "scale": {"type": "utc", "domain": [{"year": 2020, "month": 1, "date": 1, "utc": true}, {"year": 2020, "month": 12, "date": 31, "utc": true}], "range": [73, 578]},
              "axis": {"orient": "bottom", "offset": -40, "title": null, "labelExpr": "utcFormat(datum.value, '%-d.%-m.')", "labelFlush": false, "labelOverlap": false, "tickSize": -4, "labelPadding": 18,
                "values": [{"year": 2020, "month": 1, "date": 1, "utc": true}, {"year": 2020, "month": 2, "date": 1, "utc": true}, {"year": 2020, "month": 3, "date": 1, "utc": true}, {"year": 2020, "month": 4, "date": 1, "utc": true}, {"year": 2020, "month": 5, "date": 1, "utc": true}, {"year": 2020, "month": 6, "date": 1, "utc": true}, {"year": 2020, "month": 7, "date": 1, "utc": true}, {"year": 2020, "month": 8, "date": 1, "utc": true}, {"year": 2020, "month": 9, "date": 1, "utc": true}, {"year": 2020, "month": 10, "date": 1, "utc": true}, {"year": 2020, "month": 11, "date": 1, "utc": true}, {"year": 2020, "month": 12, "date": 1, "utc": true}]}},
            "y": {"field": "time", "type": "quantitative",
              "scale": {"domain": [5, 21.7], "range": [416, 54], "clamp": true, "nice": false, "zero": false},
              "axis": {"orient": "left", "offset": -73, "title": null, "values": [5, 6, 7, 8, 9, 10, 11, 12, 13, 14, 15, 16, 17, 18, 19, 20, 21], "labelExpr": "(datum.value < 10 ? '0' : '') + datum.value + ':00'", "labelFlush": false, "labelOverlap": false, "tickSize": -4, "labelPadding": 15}},
            "detail": {"field": "curve"}
          }
        },
        {
          "data": {"name": "flicker"},
          "transform": [{"filter": "datum.rep === 'REP 3'"}],
          "mark": {"type": "area", "interpolate": "monotone", "opacity": 0.95},
          "encoding": {
            "x": {"field": "date", "type": "temporal",
              "scale": {"type": "utc", "domain": [{"year": 2020, "month": 1, "date": 1, "utc": true}, {"year": 2020, "month": 12, "date": 31, "utc": true}], "range": [73, 578]},
              "axis": {"orient": "top", "offset": -54, "title": null, "labels": false, "tickSize": -4,
                "values": [{"year": 2020, "month": 1, "date": 1, "utc": true}, {"year": 2020, "month": 2, "date": 1, "utc": true}, {"year": 2020, "month": 3, "date": 1, "utc": true}, {"year": 2020, "month": 4, "date": 1, "utc": true}, {"year": 2020, "month": 5, "date": 1, "utc": true}, {"year": 2020, "month": 6, "date": 1, "utc": true}, {"year": 2020, "month": 7, "date": 1, "utc": true}, {"year": 2020, "month": 8, "date": 1, "utc": true}, {"year": 2020, "month": 9, "date": 1, "utc": true}, {"year": 2020, "month": 10, "date": 1, "utc": true}, {"year": 2020, "month": 11, "date": 1, "utc": true}, {"year": 2020, "month": 12, "date": 1, "utc": true}]}},
            "y": {"field": "from", "type": "quantitative",
              "scale": {"domain": [5, 21.7], "range": [416, 54], "clamp": true, "nice": false, "zero": false},
              "axis": {"orient": "right", "offset": -41, "title": null, "labels": false, "tickSize": -4, "values": [5, 6, 7, 8, 9, 10, 11, 12, 13, 14, 15, 16, 17, 18, 19, 20, 21]}},
            "y2": {"field": "to"},
            "color": {"field": "name", "type": "nominal",
              "scale": {"domain": ["Hauptstraße 34", "Hauptstraße 36", "Hauptstraße 40", "Hauptstraße 44", "Hauptstraße 65", "An der Burg 6", "Im Felde 2", "Im Felde 3", "Winkel 5", "Winkel 9", "Barnstorfer Straße 15", "Winningstedter Str. 7", "Privatweg 1", "Schulberg 20/20A"],
                "range": ["#84c441", "#3e9a4a", "#1a5530", "#5bb8c4", "#10788a", "#f5c31c", "#c8902c", "#a8621c", "#f08a24", "#e0621e", "#8f4418", "#125da6", "#c4c4bd", "#9c9c94"]},
              "legend": {"orient": "none", "legendX": 12, "legendY": 918, "columns": 5, "gridAlign": "all", "columnPadding": 84, "rowPadding": 1.5, "symbolType": "circle", "symbolSize": 220, "symbolStrokeWidth": 0, "symbolOpacity": 1, "labelFont": "Liberation Sans", "labelFontSize": 14, "labelColor": "#333", "labelOffset": 23, "title": null, "padding": 0}},
            "detail": {"field": "seg"}
          }
        }
      ],
      "resolve": {"axis": {"x": "independent", "y": "independent"}}
    }
  ],
  "spacing": 1
}
